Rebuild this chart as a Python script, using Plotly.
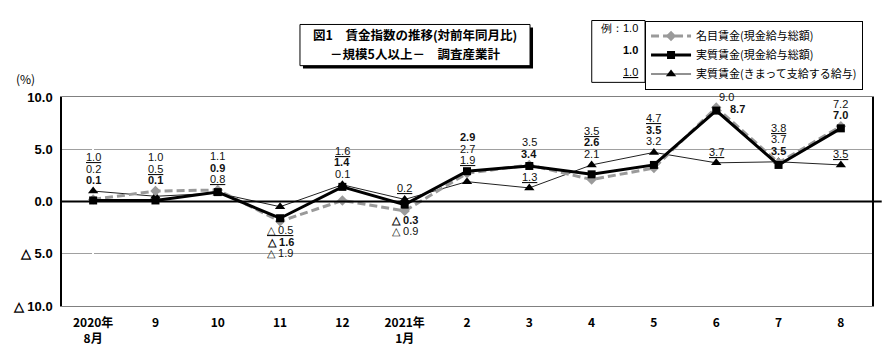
import plotly.graph_objects as go

# ---- data ----
months = ["2020年<br>8月", "9", "10", "11", "12", "2021年<br>1月",
          "2", "3", "4", "5", "6", "7", "8"]
nominal = [0.2, 1.0, 1.1, -1.9, 0.1, -0.9, 2.7, 3.5, 2.1, 3.2, 9.0, 3.7, 7.2]
real = [0.1, 0.1, 0.9, -1.6, 1.4, -0.3, 2.9, 3.4, 2.6, 3.5, 8.7, 3.5, 7.0]
fixed = [1.0, 0.5, 0.8, -0.5, 1.6, 0.2, 1.9, 1.3, 3.5, 4.7, 3.7, 3.8, 3.5]
ytick_vals = [-10, -5, 0, 5, 10]
ytick_text = ["△ 10.0", "△ 5.0", "0.0", "5.0", "10.0"]
title_lines = ["図1　賃金指数の推移(対前年同月比)", "－規模5人以上－　調査産業計"]

# label placement style per point: a=stack above, b=stack below, p=above own point, r=right of point
nominal_pos = ["a", "a", "a", "b", "a", "b", "a", "a", "a", "a", "r", "a", "a"]
real_pos = ["a", "a", "a", "b", "a", "b", "a", "a", "a", "a", "r", "a", "a"]
fixed_pos = ["a", "a", "a", "b", "a", "p", "a", "p", "a", "a", "p", "a", "p"]

JP = "Noto Sans CJK JP"
NARROW = "Liberation Sans Narrow, Arial Narrow, Liberation Sans, sans-serif"

x = list(range(len(months)))
fig = go.Figure()

fig.add_trace(go.Scatter(
    x=x, y=fixed, mode="lines+markers", name="実質賃金(きまって支給する給与)",
    line=dict(color="#222", width=1),
    marker=dict(symbol="triangle-up", size=9, color="black"), legendrank=3))
fig.add_trace(go.Scatter(
    x=x, y=nominal, mode="lines+markers", name="名目賃金(現金給与総額)",
    line=dict(color="#9a9a9a", width=3, dash="8px,4px"),
    marker=dict(symbol="diamond", size=8, color="#9a9a9a"), legendrank=1))
fig.add_trace(go.Scatter(
    x=x, y=real, mode="lines+markers", name="実質賃金(現金給与総額)",
    line=dict(color="black", width=3),
    marker=dict(symbol="square", size=8, color="black"), legendrank=2))


def fmt(v):
    return ("△ " if v < 0 else "") + f"{abs(v):.1f}"


annotations = []
series = [(nominal, nominal_pos, "{}"), (real, real_pos, "<b>{}</b>"), (fixed, fixed_pos, "<u>{}</u>")]
for i in x:
    groups = {}
    for vals, pos, tpl in series:
        groups.setdefault(pos[i], []).append((vals[i], tpl))
    for g, items in groups.items():
        items.sort(key=lambda t: -t[0])
        n = len(items)
        for k, (v, tpl) in enumerate(items):
            xs = 0
            if g == "a":
                yref_v = max(t[0] for t in items)
                ys = 11 + 11.5 * (n - 1 - k)
            elif g == "b":
                yref_v = min(t[0] for t in items)
                ys = -(9 + 11.5 * k)
            elif g == "p":
                yref_v = v
                ys = 11
            else:
                yref_v = max(t[0] for t in items)
                ys = -2 + 12 * (n - 1 - k)
                xs = 10 + 11 * k
            annotations.append(dict(
                x=i, y=yref_v, xref="x", yref="y", text=tpl.format(fmt(v)),
                showarrow=False, yshift=ys, xshift=xs, yanchor="middle",
                font=dict(family=NARROW, size=11, color="#111")))

# (%) label
annotations.append(dict(x=-0.045, y=1.09, xref="paper", yref="paper", text="(%)",
                        showarrow=False, xanchor="center", yanchor="middle",
                        font=dict(family=JP, size=12, color="black")))
# title text (two lines)
for t, yy in zip(title_lines, [1.298, 1.207]):
    annotations.append(dict(
        x=0.4358, y=yy, xref="paper", yref="paper", xanchor="center", yanchor="middle",
        text="<b>" + t + "</b>", showarrow=False,
        font=dict(family=JP, size=12.5, color="black")))
# example box
ex_texts = ["例：1.0", "<b>1.0</b>", "<u>1.0</u>"]
ex_y = [1.329, 1.225, 1.122]
for t, yy in zip(ex_texts, ex_y):
    annotations.append(dict(x=0.713, y=yy, xref="paper", yref="paper", text=t,
                            xanchor="right", yanchor="middle", showarrow=False,
                            font=dict(family=NARROW, size=11, color="black")))

shapes = [
    # title shadow
    dict(type="rect", xref="paper", yref="paper", x0=0.2975, x1=0.5815, y0=1.136, y1=1.333,
         fillcolor="black", line=dict(width=0), layer="below"),
    # title box
    dict(type="rect", xref="paper", yref="paper", x0=0.2938, x1=0.5778, y0=1.150, y1=1.347,
         fillcolor="white", line=dict(color="black", width=1), layer="below"),
    # example box
    dict(type="rect", xref="paper", yref="paper", x0=0.654, x1=0.7198, y0=1.07, y1=1.366,
         line=dict(color="black", width=1)),
    # zero line
    dict(type="line", xref="paper", yref="y", x0=0, x1=1.012, y0=0, y1=0,
         line=dict(color="black", width=2)),
]

# the page body adds an 8px offset, so margins are compensated
fig.update_layout(
    width=890, height=364,
    margin=dict(l=54, r=26, t=85, b=66),
    paper_bgcolor="white", plot_bgcolor="white",
    showlegend=True,
    legend=dict(x=0.7198, y=1.366, xanchor="left", yanchor="top",
                bordercolor="black", borderwidth=1, bgcolor="white",
                font=dict(family=JP, size=11, color="black"),
                itemwidth=40, tracegroupgap=0),
    annotations=annotations,
    shapes=shapes,
    font=dict(family=JP, color="black"),
)
fig.update_xaxes(range=[-0.5, 12.5], tickvals=x, ticktext=["<b>" + m + "</b>" for m in months],
                 showgrid=False, showline=True, linecolor="#808080", linewidth=1, mirror=True,
                 ticks="", automargin=False,
                 tickfont=dict(family=JP, size=12, color="black"), ticklabelstandoff=6)
fig.update_yaxes(range=[-10, 10], tickvals=ytick_vals, ticktext=["<b>" + t + "</b>" for t in ytick_text],
                 showgrid=True, gridcolor="#a0a0a0", gridwidth=1, zeroline=False,
                 showline=True, linecolor="black", linewidth=1.5, mirror=True,
                 ticks="", ticklabelstandoff=5, automargin=False,
                 tickfont=dict(family="Liberation Sans, Arial", size=13, color="black"))

fig.write_html("out.html")
